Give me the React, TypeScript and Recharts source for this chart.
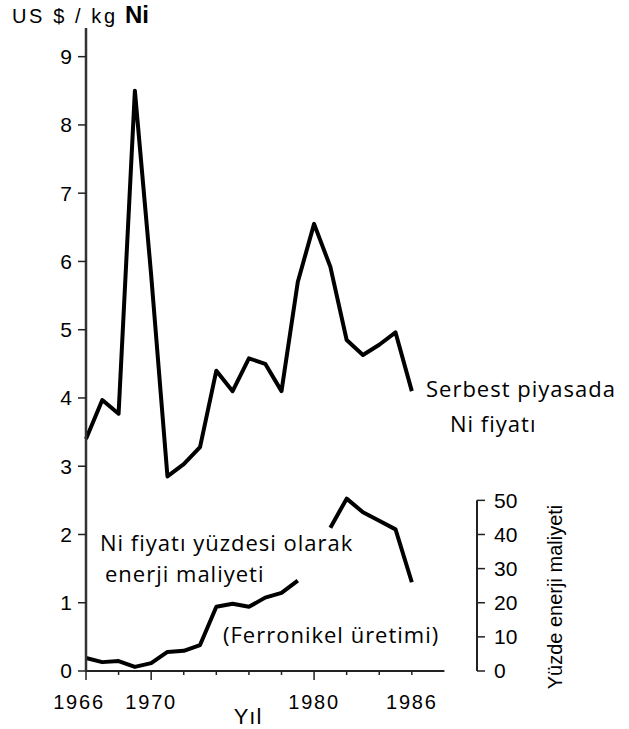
import React from "react";
import {
  LineChart,
  Line,
  XAxis,
  YAxis,
  ReferenceLine,
} from "recharts";

// years on the x axis
const years = [
  1966, 1967, 1968, 1969, 1970, 1971, 1972, 1973, 1974, 1975, 1976,
  1977, 1978, 1979, 1980, 1981, 1982, 1983, 1984, 1985, 1986,
];

// free market Ni price, US $ / kg
const niPrice = [
  3.4, 3.97, 3.77, 8.5, 5.8, 2.85, 3.03, 3.28, 4.4, 4.1, 4.58,
  4.5, 4.1, 5.7, 6.55, 5.92, 4.85, 4.63, 4.78, 4.96, 4.1,
];

// energy cost as % of Ni price (ferronickel), gap in 1980
const energyPct: (number | null)[] = [
  3.8, 2.6, 2.9, 1.2, 2.3, 5.6, 5.9, 7.6, 18.8, 19.7, 18.8,
  21.5, 22.9, 26.5, null, 42, 50.5, 46.5, 44, 41.5, 26,
];

const xTicks = [1966, 1968, 1970, 1972, 1974, 1976, 1978, 1980, 1982, 1984, 1986];
const xLabels = [1966, 1970, 1980, 1986];
const longTicks = [1966, 1970, 1980];
const leftTicks = [0, 1, 2, 3, 4, 5, 6, 7, 8, 9];
const rightTicks = [0, 10, 20, 30, 40, 50];

const data = years.map((y, i) => ({
  year: y,
  price: niPrice[i],
  energy: energyPct[i],
}));

const sans = "'Liberation Sans', Arial, sans-serif";
const humanist = "'Open Sans', sans-serif";

function YearTick(props: any) {
  const { x, y, payload } = props;
  const v = payload.value;
  const len = longTicks.includes(v) ? 9 : 4;
  return (
    <g>
      <line x1={x} y1={y} x2={x} y2={y + len} stroke="#222" strokeWidth={1.5} />
      {xLabels.includes(v) && (
        <text
          x={v === 1966 ? x - 7 : x}
          y={y + 38}
          textAnchor="middle"
          fontSize={20}
          letterSpacing={1.8}
          fontFamily={sans}
          fill="#000"
        >
          {v}
        </text>
      )}
    </g>
  );
}

export default function App() {
  return (
    <div style={{ position: "absolute", left: 0, top: 0, width: 629, height: 729, background: "#fff" }}>
      <LineChart
        width={629}
        height={729}
        data={data}
        margin={{ top: 28, right: 72, left: 36, bottom: 18 }}
      >
        <XAxis
          dataKey="year"
          type="number"
          domain={[1966, 1990]}
          ticks={xTicks}
          tick={<YearTick />}
          tickSize={0}
          tickMargin={0}
          axisLine={false}
          tickLine={false}
          height={40}
          interval={0}
        />
        <YAxis
          domain={[0, 9.42]}
          ticks={leftTicks}
          width={50}
          tickSize={8}
          tickMargin={6}
          axisLine={{ stroke: "#333", strokeWidth: 2.5 }}
          tickLine={{ stroke: "#222", strokeWidth: 1.5 }}
          tick={{ fontSize: 21, fill: "#000", fontFamily: sans }}
          interval={0}
        />
        <YAxis
          yAxisId="r"
          orientation="right"
          domain={[0, 188.4]}
          ticks={rightTicks}
          width={80}
          tickSize={8}
          tickMargin={9}
          axisLine={false}
          tickLine={{ stroke: "#222", strokeWidth: 1.5 }}
          tick={{ fontSize: 21, fill: "#000", fontFamily: sans, textAnchor: "start" }}
          interval={0}
        />
        <ReferenceLine
          segment={[{ x: 1966, y: 0 }, { x: 1988, y: 0 }]}
          stroke="#222"
          strokeWidth={2}
          ifOverflow="visible"
        />
        <ReferenceLine
          yAxisId="r"
          segment={[{ x: 1990, y: 0 }, { x: 1990, y: 50 }]}
          stroke="#222"
          strokeWidth={2}
          ifOverflow="visible"
        />
        <Line
          dataKey="price"
          type="linear"
          stroke="#000"
          strokeWidth={4}
          strokeLinejoin="round"
          dot={false}
          isAnimationActive={false}
        />
        <Line
          dataKey="energy"
          yAxisId="r"
          type="linear"
          stroke="#000"
          strokeWidth={4}
          strokeLinejoin="round"
          dot={false}
          connectNulls={false}
          isAnimationActive={false}
        />
      </LineChart>
      <svg
        width={629}
        height={729}
        style={{ position: "absolute", left: 0, top: 0, pointerEvents: "none" }}
      >
        <text x={12} y={23} fontSize={20} letterSpacing={2.6} fontFamily={sans} fill="#000">
          US $ / kg
        </text>
        <text x={125} y={23} fontSize={24} fontWeight="bold" fontFamily={sans} fill="#000">
          Ni
        </text>
        <g fontFamily={humanist} fontSize={22} letterSpacing={1} fill="#000">
          <text x={426} y={397}>Serbest piyasada</text>
          <text x={450} y={432}>Ni fiyatı</text>
          <text x={100} y={551}>Ni fiyatı yüzdesi olarak</text>
          <text x={105} y={582}>enerji maliyeti</text>
          <text x={223} y={643}>(Ferronikel üretimi)</text>
        </g>
        <text x={248} y={724} textAnchor="middle" fontSize={22} letterSpacing={1} fontFamily={sans} fill="#000">
          Yıl
        </text>
        <text
          x={0}
          y={0}
          transform="translate(562 597) rotate(-90)"
          textAnchor="middle"
          fontSize={20}
          fontFamily={sans}
          fill="#000"
        >
          Yüzde enerji maliyeti
        </text>
      </svg>
    </div>
  );
}
